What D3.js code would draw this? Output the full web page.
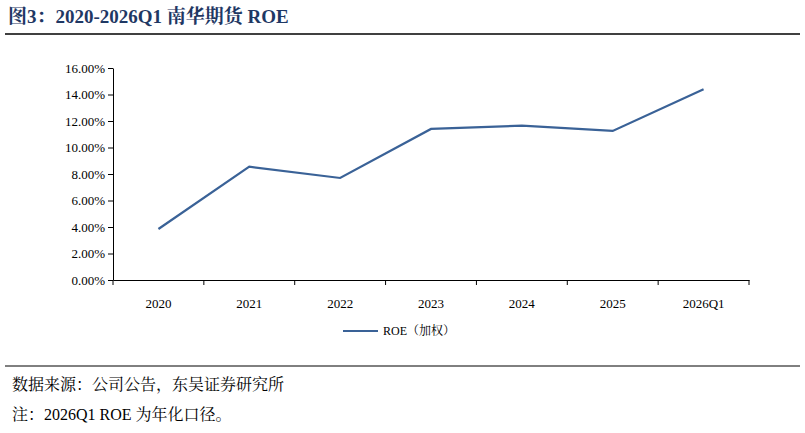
<!DOCTYPE html>
<html><head><meta charset="utf-8">
<script src="https://cdn.jsdelivr.net/npm/d3@7"></script>
<style>body{margin:0;background:#fff}</style>
</head><body>
<script>
var categories = ["2020", "2021", "2022", "2023", "2024", "2025", "2026Q1"];
var roeValues = [3.85, 8.55, 7.7, 11.4, 11.65, 11.25, 14.4];
var yTicks = [0, 2, 4, 6, 8, 10, 12, 14, 16];

var W = 805, H = 433;
var serif = "Liberation Serif, Noto Serif CJK SC, Noto Sans CJK SC, serif";
var svg = d3.select("body").append("svg").attr("width", W).attr("height", H)
    .attr("font-family", serif);

svg.append("text").attr("x", 8).attr("y", 23)
    .attr("fill", "#1f3864")
    .style("font-size", "19px").style("font-weight", "bold")
    .text("图3：2020-2026Q1 南华期货 ROE");
svg.append("line").attr("x1", 5).attr("x2", 800).attr("y1", 34).attr("y2", 34)
    .attr("stroke", "#000").attr("stroke-width", 1.5);

var x = d3.scaleBand().domain(categories).range([113, 749]);
var y = d3.scaleLinear().domain([0, 16]).range([280, 68]);

var yAxis = svg.append("g").attr("transform", "translate(113,0)")
    .call(d3.axisLeft(y).tickValues(yTicks).tickSize(5).tickSizeOuter(0)
        .tickFormat(function(d) { return d.toFixed(2) + "%"; }));
var xAxis = svg.append("g").attr("transform", "translate(0,280)")
    .call(d3.axisBottom(x).tickSize(0).tickSizeOuter(0));
xAxis.selectAll(".tick").append("line")
    .attr("x1", -x.bandwidth() / 2).attr("x2", -x.bandwidth() / 2)
    .attr("y2", 5).attr("stroke", "#000");
xAxis.append("line").attr("x1", 749).attr("x2", 749).attr("y2", 5).attr("stroke", "#000");
[yAxis, xAxis].forEach(function(a) {
    a.attr("font-family", serif).attr("font-size", 13);
    a.selectAll("text").attr("fill", "#000");
    a.selectAll("path,line").attr("stroke", "#000");
});
yAxis.selectAll("text").attr("x", -8);
xAxis.selectAll("text").attr("dy", "1.9em");

var line = d3.line()
    .x(function(d, i) { return x(categories[i]) + x.bandwidth() / 2; })
    .y(function(d) { return y(d); });
svg.append("path").datum(roeValues).attr("d", line)
    .attr("fill", "none").attr("stroke", "#3a6297").attr("stroke-width", 2.2);

svg.append("line").attr("x1", 343).attr("x2", 378).attr("y1", 331).attr("y2", 331)
    .attr("stroke", "#3a6297").attr("stroke-width", 2.2);
svg.append("text").attr("x", 383).attr("y", 335)
    .style("font-size", "12px").text("ROE（加权）");

svg.append("line").attr("x1", 5).attr("x2", 800).attr("y1", 366).attr("y2", 366)
    .attr("stroke", "#000").attr("stroke-width", 1);
svg.append("text").attr("x", 12).attr("y", 390)
    .style("font-size", "16px").text("数据来源：公司公告，东吴证券研究所");
svg.append("text").attr("x", 12).attr("y", 420)
    .style("font-size", "16px").text("注：2026Q1 ROE 为年化口径。");
</script>
</body></html>
